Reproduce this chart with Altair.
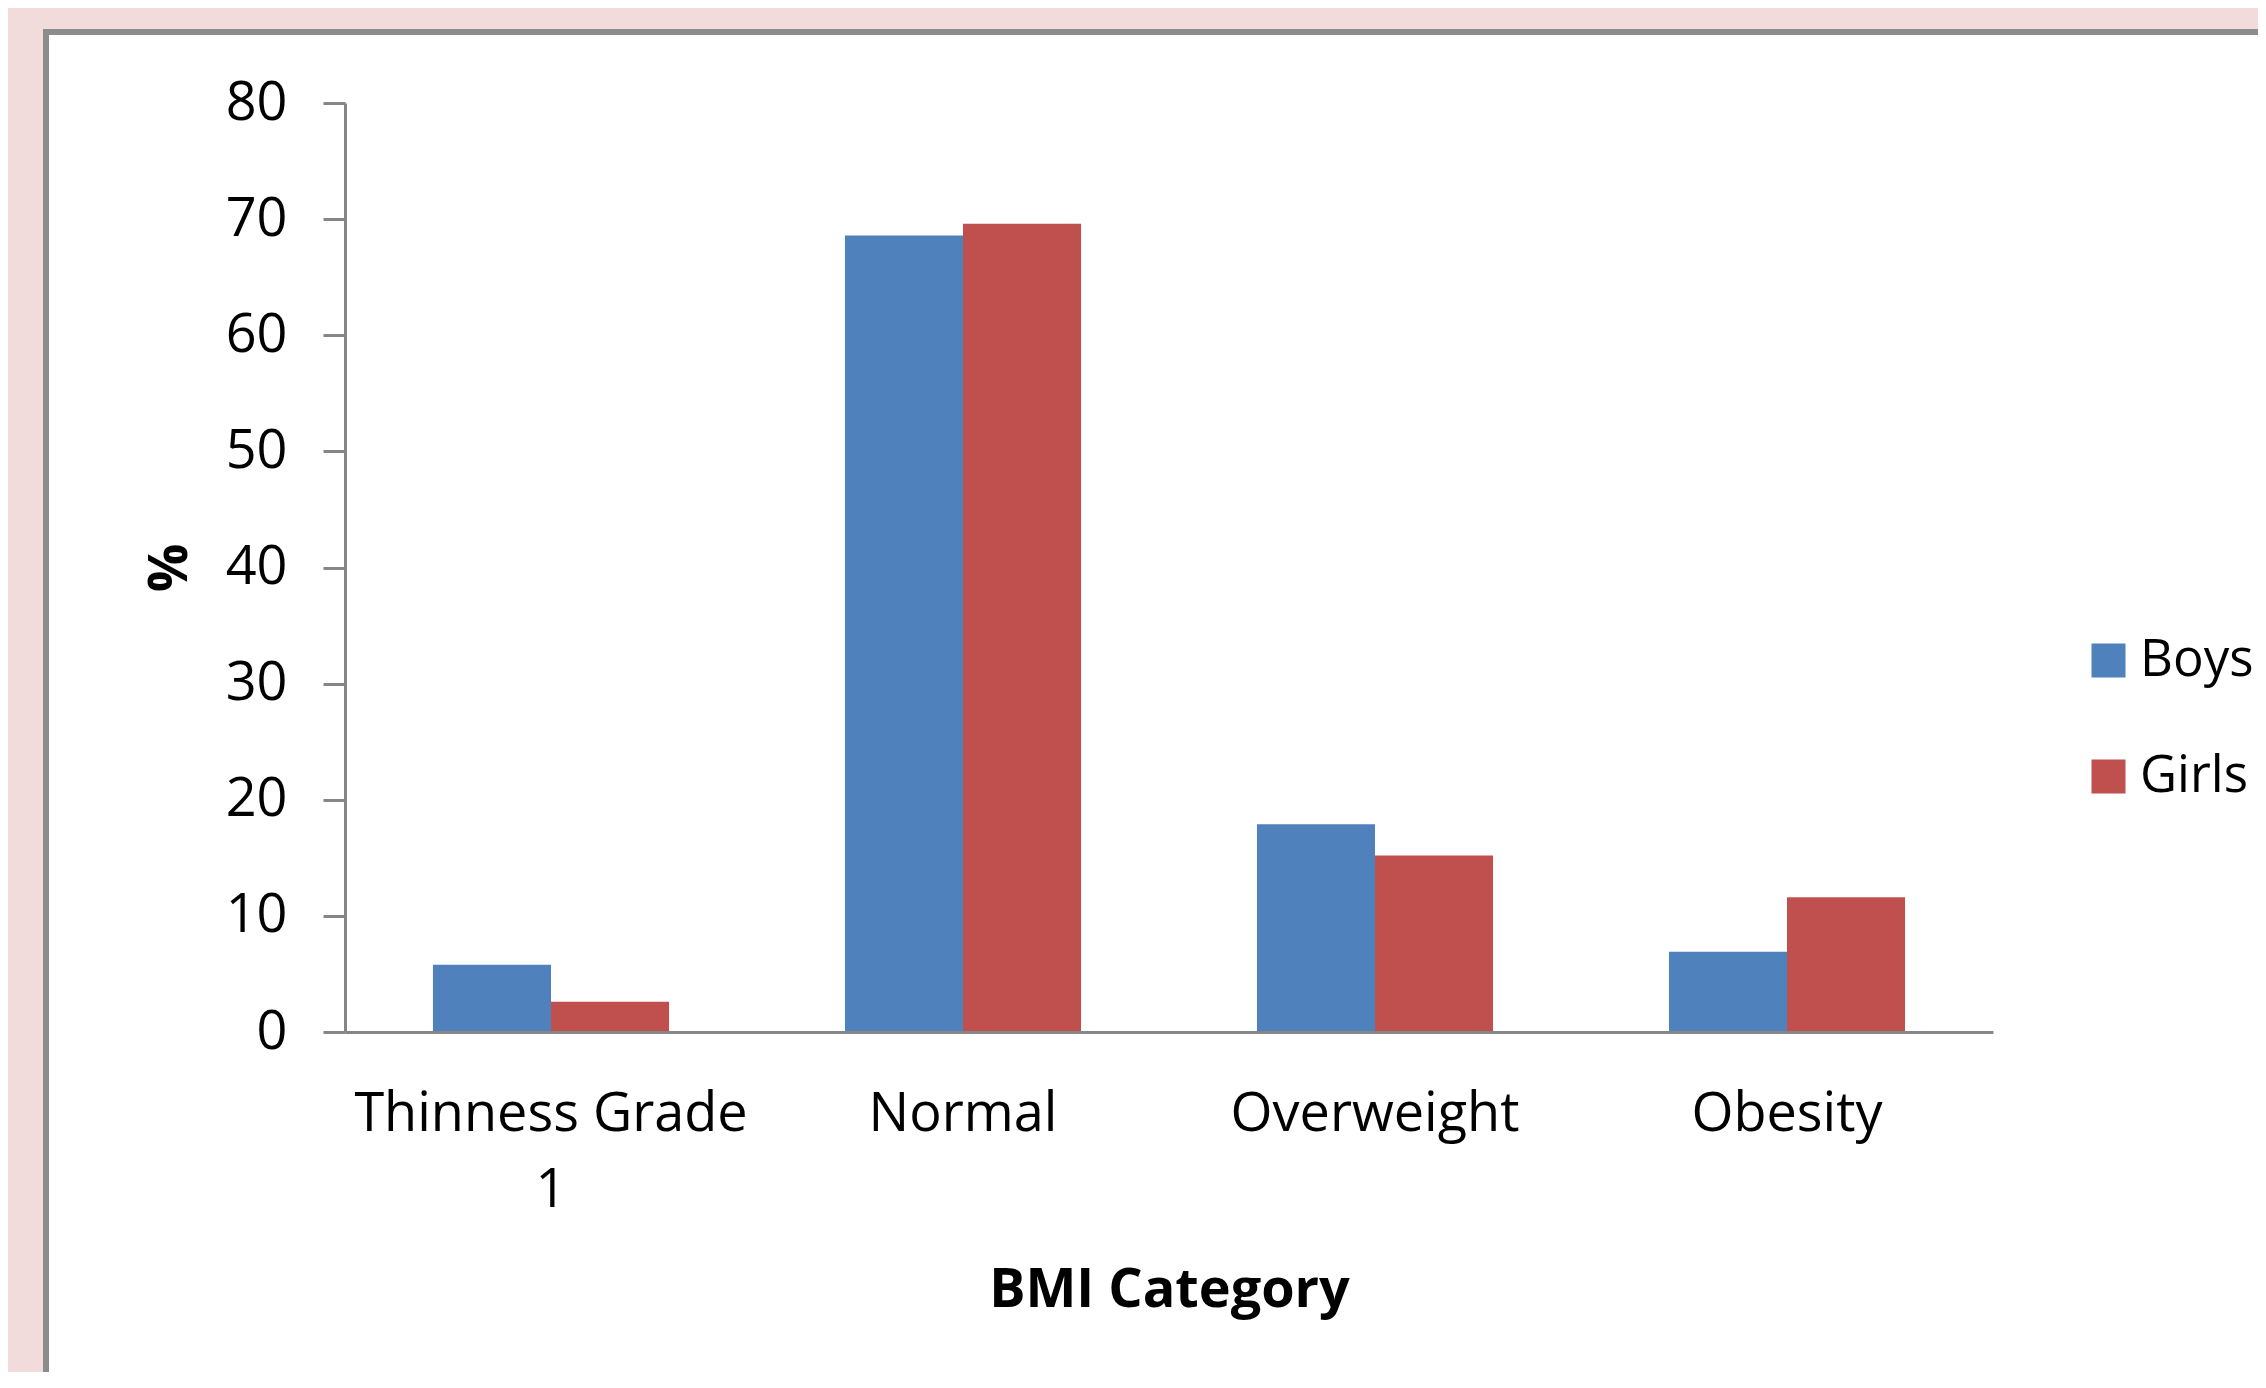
import altair as alt
import pandas as pd

categories = ["Thinness Grade 1", "Normal", "Overweight", "Obesity"]
series = ["Boys", "Girls"]
boys = [5.8, 68.6, 17.9, 6.9]
girls = [2.6, 69.6, 15.2, 11.6]
y_ticks = [0, 10, 20, 30, 40, 50, 60, 70, 80]

rows = []
for c, b, g in zip(categories, boys, girls):
    rows.append({"category": c, "series": "Boys", "value": b})
    rows.append({"category": c, "series": "Girls", "value": g})
df = pd.DataFrame(rows)

FONT = "Open Sans"
GRAY = "#868686"

frame = alt.Chart(pd.DataFrame({"a": [0]})).mark_rect(
    fill="white", stroke="#8C8C8C", strokeWidth=6, clip=False
).encode(
    x=alt.value(-299), x2=alt.value(2400),
    y=alt.value(-71), y2=alt.value(1600),
)

bars = alt.Chart(df).mark_bar().encode(
    x=alt.X(
        "category:N",
        sort=categories,
        scale=alt.Scale(paddingInner=0.427, paddingOuter=0.2135),
        axis=alt.Axis(
            title="BMI Category",
            titleFont=FONT, titleFontSize=54, titleFontWeight="bold", titleColor="black",
            titlePadding=46,
            labelFont=FONT, labelFontSize=54, labelColor="black", labelAngle=0,
            labelPadding=55, labelLineHeight=76, labelLimit=0,
            labelExpr="datum.value == 'Thinness Grade 1' ? ['Thinness Grade', '1'] : datum.value",
            ticks=False, domainColor=GRAY, domainWidth=3, zindex=1,
        ),
    ),
    xOffset=alt.XOffset("series:N", sort=series,
                        scale=alt.Scale(paddingInner=0, paddingOuter=0)),
    y=alt.Y(
        "value:Q",
        scale=alt.Scale(domain=[0, 80], nice=False),
        axis=alt.Axis(
            title="%", values=y_ticks, grid=False,
            titleFont=FONT, titleFontSize=54, titleFontWeight="bold", titleColor="black",
            titlePadding=28,
            labelFont=FONT, labelFontSize=54, labelColor="black", labelPadding=36,
            tickSize=22, tickColor=GRAY, tickWidth=3,
            domainColor=GRAY, domainWidth=3, zindex=1,
        ),
    ),
    color=alt.Color(
        "series:N", sort=series,
        scale=alt.Scale(domain=series, range=["#4F81BD", "#C0504D"]),
        legend=alt.Legend(
            title=None, orient="none", legendX=1738, legendY=532,
            symbolType="square", symbolSize=1156, symbolStrokeWidth=0,
            labelFont=FONT, labelFontSize=51, labelColor="black",
            labelOffset=6, rowPadding=64, labelLimit=0,
        ),
    ),
)

chart = alt.layer(frame, bars).properties(
    width=1648, height=929,
    autosize=alt.AutoSizeParams(type="none"),
    padding={"left": 337, "top": 95, "right": 265, "bottom": 340},
    background="#F2DCDB",
).configure_view(stroke=None)

chart.save("out.html", embed_options={"renderer": "svg", "actions": False})
